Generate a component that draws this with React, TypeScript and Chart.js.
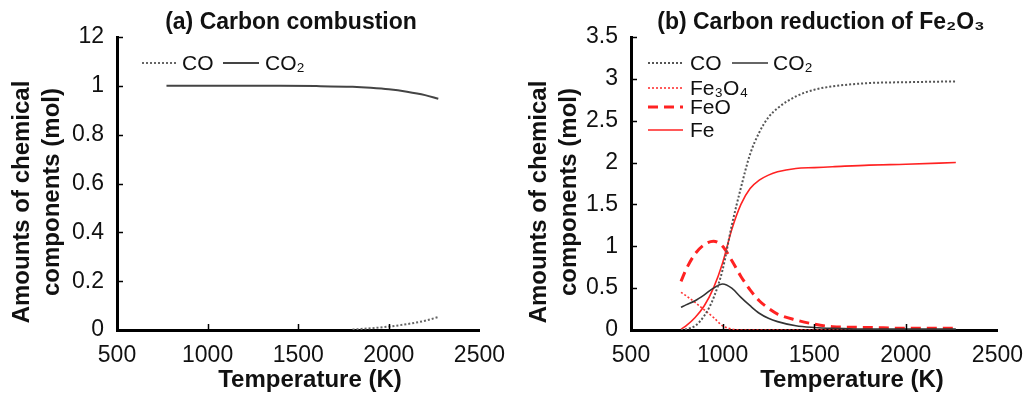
import React, { useEffect, useRef } from "react";
import { Chart, registerables } from "chart.js";

Chart.register(...registerables);

const FONT = "'Liberation Sans', Arial, Helvetica, sans-serif";

// ---------- (a) Carbon combustion ----------
const tempsCoA = [1800, 1900, 2000, 2100, 2200, 2273];
const coA = [0.002, 0.007, 0.014, 0.024, 0.038, 0.053];
const tempsCo2A = [773, 1000, 1200, 1400, 1600, 1800, 1900, 2000, 2100, 2200, 2273];
const co2A = [1, 1, 1, 1, 0.999, 0.996, 0.992, 0.986, 0.976, 0.962, 0.947];
const yTicksA = [0, 0.2, 0.4, 0.6, 0.8, 1, 1.2];
const yTickLabelsA = ["0", "0.2", "0.4", "0.6", "0.8", "1", "12"];

// ---------- (b) Carbon reduction of Fe2O3 ----------
const tempsB = [773, 800, 850, 900, 950, 1000, 1050, 1100, 1150, 1200, 1250, 1300, 1400, 1500, 1600, 1800, 2000, 2273];
const coB = [0, 0.01, 0.05, 0.17, 0.38, 0.72, 1.25, 1.7, 2.1, 2.36, 2.54, 2.65, 2.79, 2.87, 2.91, 2.95, 2.96, 2.97];
const co2B = [0.27, 0.3, 0.35, 0.42, 0.5, 0.55, 0.5, 0.39, 0.29, 0.2, 0.14, 0.1, 0.05, 0.03, 0.02, 0.01, 0.01, 0.01];
const fe3o4B = [0.45, 0.41, 0.33, 0.24, 0.15, 0.05, 0.01, 0, 0, 0, 0, 0, 0, 0, 0, 0, 0, 0];
const feoB = [0.58, 0.72, 0.91, 1.02, 1.06, 1.0, 0.83, 0.64, 0.48, 0.35, 0.26, 0.19, 0.12, 0.07, 0.04, 0.03, 0.02, 0.02];
const feB = [0.01, 0.05, 0.15, 0.29, 0.5, 0.8, 1.2, 1.5, 1.69, 1.79, 1.85, 1.89, 1.93, 1.94, 1.95, 1.97, 1.98, 2.0];
const yTickLabelsB = ["0", "0.5", "1", "1.5", "2", "2.5", "3", "3.5"];

const xTickValues = [500, 1000, 1500, 2000, 2500];

const pts = (xs: number[], ys: number[]) => xs.map((x, i) => ({ x, y: ys[i] }));

type LegendItem = { ds: number; x1: number; x2: number; y: number; tx: number };
type PanelCfg = {
  width: number;
  title: string;
  titleX: number;
  xTitleX: number;
  yAxisWidth: number;
  padRight: number;
  yMax: number;
  yStep: number;
  yLabel: (v: number) => string;
  datasets: any[];
  legend: LegendItem[];
};

const lineBase = {
  pointRadius: 0,
  pointHoverRadius: 0,
  fill: false,
  cubicInterpolationMode: "monotone",
};

const panelA: PanelCfg = {
  width: 517,
  title: "(a) Carbon combustion",
  titleX: 291,
  xTitleX: 310,
  yAxisWidth: 117,
  padRight: 29,
  yMax: 1.2,
  yStep: 0.2,
  yLabel: (v) => {
    const i = yTicksA.findIndex((t) => Math.abs(t - v) < 1e-6);
    return i >= 0 ? yTickLabelsA[i] : "";
  },
  datasets: [
    { ...lineBase, label: "CO", data: pts(tempsCoA, coA), borderColor: "#666666", borderWidth: 2, borderDash: [2, 2] },
    { ...lineBase, label: "CO₂", data: pts(tempsCo2A, co2A), borderColor: "#444444", borderWidth: 2 },
  ],
  legend: [
    { ds: 0, x1: 142, x2: 177, y: 63, tx: 182 },
    { ds: 1, x1: 223, x2: 259, y: 63, tx: 265 },
  ],
};

const panelB: PanelCfg = {
  width: 518,
  title: "(b) Carbon reduction of Fe₂O₃",
  titleX: 304,
  xTitleX: 335,
  yAxisWidth: 114,
  padRight: 32,
  yMax: 3.5,
  yStep: 0.5,
  yLabel: (v) => {
    const i = Math.round(v / 0.5);
    return yTickLabelsB[i] ?? "";
  },
  datasets: [
    { ...lineBase, label: "CO", data: pts(tempsB, coB), borderColor: "#555555", borderWidth: 2, borderDash: [2, 2] },
    { ...lineBase, label: "CO₂", data: pts(tempsB, co2B), borderColor: "#333333", borderWidth: 1.6 },
    { ...lineBase, label: "Fe₃O₄", data: pts(tempsB, fe3o4B), borderColor: "#ff3333", borderWidth: 1.6, borderDash: [2, 2] },
    { ...lineBase, label: "FeO", data: pts(tempsB, feoB), borderColor: "#ff2222", borderWidth: 3, borderDash: [10, 6] },
    { ...lineBase, label: "Fe", data: pts(tempsB, feB), borderColor: "#ff2222", borderWidth: 1.6 },
  ],
  legend: [
    { ds: 0, x1: 131, x2: 166, y: 63, tx: 173 },
    { ds: 1, x1: 215, x2: 251, y: 63, tx: 256 },
    { ds: 2, x1: 131, x2: 166, y: 88, tx: 173 },
    { ds: 3, x1: 131, x2: 166, y: 107, tx: 173 },
    { ds: 4, x1: 131, x2: 166, y: 130, tx: 173 },
  ],
};

function decorPlugin(cfg: PanelCfg) {
  return {
    id: "decor",
    afterDraw(chart: any) {
      const ctx: CanvasRenderingContext2D = chart.ctx;
      const a = chart.chartArea;
      const xs = chart.scales.x;
      const ys = chart.scales.y;
      ctx.save();
      // inward tick marks
      ctx.strokeStyle = "#000";
      ctx.lineWidth = 1.5;
      ys.ticks.forEach((t: any) => {
        if (t.value === 0) return;
        const p = Math.round(ys.getPixelForValue(t.value)) + 0.5;
        ctx.beginPath();
        ctx.moveTo(a.left, p);
        ctx.lineTo(a.left + 6, p);
        ctx.stroke();
      });
      xs.ticks.forEach((t: any) => {
        if (t.value === 500 || t.value === 2500) return;
        const p = Math.round(xs.getPixelForValue(t.value)) + 0.5;
        ctx.beginPath();
        ctx.moveTo(p, a.bottom);
        ctx.lineTo(p, a.bottom - 6);
        ctx.stroke();
      });

      ctx.fillStyle = "#111";
      ctx.textAlign = "center";
      ctx.textBaseline = "middle";
      // title
      ctx.font = `bold 23px ${FONT}`;
      ctx.fillText(cfg.title, cfg.titleX, 23);
      // x axis title
      ctx.font = `bold 24px ${FONT}`;
      ctx.fillText("Temperature (K)", cfg.xTitleX, 380);
      // y axis title (two lines)
      ctx.save();
      ctx.translate(22, 202);
      ctx.rotate(-Math.PI / 2);
      ctx.fillText("Amounts of chemical", 0, 0);
      ctx.restore();
      ctx.save();
      ctx.translate(52, 192);
      ctx.rotate(-Math.PI / 2);
      ctx.fillText("components (mol)", 0, 0);
      ctx.restore();

      // legend
      cfg.legend.forEach((it) => {
        const ds = chart.data.datasets[it.ds];
        ctx.strokeStyle = ds.borderColor;
        ctx.lineWidth = ds.borderWidth;
        ctx.setLineDash(ds.borderDash || []);
        ctx.beginPath();
        ctx.moveTo(it.x1, it.y);
        ctx.lineTo(it.x2, it.y);
        ctx.stroke();
        ctx.setLineDash([]);
        ctx.fillStyle = "#111";
        ctx.font = `21px ${FONT}`;
        ctx.textAlign = "left";
        ctx.textBaseline = "middle";
        ctx.fillText(ds.label, it.tx, it.y + 1);
      });
      ctx.restore();
    },
  };
}

function Panel({ cfg }: { cfg: PanelCfg }) {
  const ref = useRef<HTMLCanvasElement | null>(null);
  useEffect(() => {
    if (!ref.current) return;
    const chart = new Chart(ref.current, {
      type: "line",
      data: { datasets: cfg.datasets },
      options: {
        responsive: false,
        animation: false,
        events: [],
        layout: { padding: { top: 37, right: cfg.padRight, left: 0, bottom: 0 } },
        plugins: { legend: { display: false }, title: { display: false }, tooltip: { enabled: false } },
        scales: {
          x: {
            type: "linear",
            min: 500,
            max: 2500,
            afterBuildTicks: (s: any) => {
              s.ticks = xTickValues.map((v) => ({ value: v }));
            },
            afterFit: (s: any) => {
              s.height = 64;
            },
            grid: { display: true, drawOnChartArea: false, drawTicks: false, color: "rgba(0,0,0,0)" },
            border: { display: true, color: "#000", width: 3 },
            ticks: {
              padding: 12,
              color: "#111",
              font: { family: FONT, size: 23 },
              maxRotation: 0,
              callback: (v: any) => String(v),
            },
          },
          y: {
            type: "linear",
            min: 0,
            max: cfg.yMax,
            ticks: {
              stepSize: cfg.yStep,
              padding: 13,
              color: "#111",
              font: { family: FONT, size: 23 },
              callback: (v: any) => cfg.yLabel(Number(v)),
            },
            afterFit: (s: any) => {
              s.width = cfg.yAxisWidth;
            },
            grid: { display: true, drawOnChartArea: false, drawTicks: false, color: "rgba(0,0,0,0)" },
            border: { display: true, color: "#000", width: 3 },
          },
        },
      } as any,
      plugins: [decorPlugin(cfg)],
    });
    return () => chart.destroy();
  }, [cfg]);
  return <canvas ref={ref} width={cfg.width} height={394} style={{ display: "block", width: cfg.width, height: 394 }} />;
}

export default function App() {
  return (
    <div
      style={{
        position: "fixed",
        left: 0,
        top: 0,
        width: 1035,
        height: 394,
        display: "flex",
        background: "#fff",
      }}
    >
      <Panel cfg={panelA} />
      <Panel cfg={panelB} />
    </div>
  );
}
